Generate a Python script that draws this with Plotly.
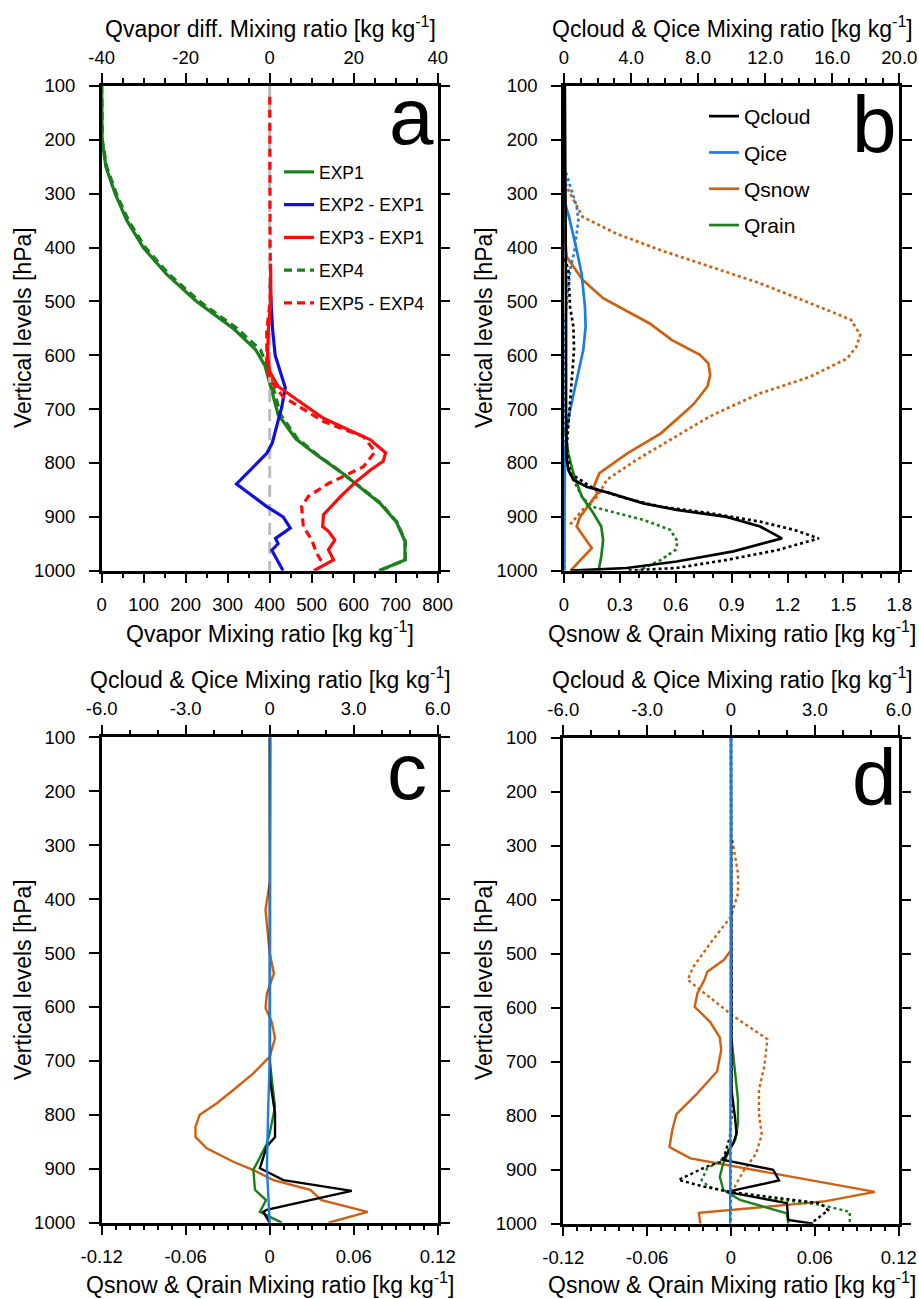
import plotly.graph_objects as go

# ---------------- DATA ----------------
# Panel a : Qvapor (bottom axis) and differences (top axis)
P_EXP1 = [100, 150, 200, 250, 300, 350, 400, 450, 500, 550, 590, 620, 665, 710, 755, 785, 820, 845, 875, 910, 945, 980, 1000]
EXP1 = [0, 0.5, 1, 10, 32, 60, 99, 155, 226, 313, 367, 389, 405, 420, 462, 512, 575, 615, 663, 702, 722, 722, 660]
EXP4 = [0, 0.5, 1.5, 12, 35, 64, 104, 161, 233, 322, 378, 394, 410, 426, 466, 514, 575, 617, 665, 703, 723, 723, 662]

P_EXP2D = [470, 500, 553, 600, 660, 695, 763, 782, 839, 881, 900, 921, 940, 950, 962, 1000]
EXP2_EXP1 = [0.1, 0.25, 0.7, 1.3, 3.7, 2.9, 0.6, -0.7, -7.9, -0.7, 3.2, 4.9, 1.4, 2.0, 0.5, 3.2]

P_EXP3D = [430, 500, 550, 600, 630, 658, 717, 757, 781, 797, 813, 835, 862, 896, 918, 927, 943, 961, 980, 1000]
EXP3_EXP1 = [0.2, 0.3, -0.3, -0.5, 0.0, 2.0, 12.8, 24.0, 27.6, 27.0, 24.0, 20.5, 16.9, 12.8, 12.6, 14.0, 15.5, 14.0, 15.2, 10.5]

P_EXP5D = [120, 200, 300, 400, 450, 500, 553, 600, 620, 646, 677, 723, 751, 779, 807, 819, 838, 862, 881, 918, 943, 968, 983]
EXP5_EXP4 = [0, 0, 0, 0.1, 0.2, 0.1, -0.7, -0.8, -0.7, 0.1, 3.2, 12.8, 22.3, 25.1, 22.3, 19.1, 14.0, 9.2, 7.6, 8.0, 10.0, 11.2, 12.4]

ZERO_P = [100, 1000]
ZERO_X = [0, 0]

# Panel b : EXP1 (solid) and EXP4 (dotted) hydrometeors
P_QC1 = [100, 300, 500, 700, 790, 813, 831, 844, 856, 875, 887, 900, 918, 940, 964, 983, 995, 1000]
QC1 = [0.05, 0.1, 0.12, 0.12, 0.15, 0.26, 0.56, 1.35, 2.74, 4.73, 6.72, 9.7, 11.7, 13.0, 10.1, 6.72, 3.74, 0.4]
P_QC4 = [420, 442, 510, 547, 590, 646, 714, 770, 819, 831, 847, 866, 881, 893, 909, 924, 940, 962, 980, 995, 1000]
QC4 = [0.05, 0.26, 0.36, 0.56, 0.6, 0.46, 0.26, 0.16, 0.36, 0.95, 1.75, 3.74, 5.73, 8.7, 11.7, 13.7, 15.2, 12.7, 9.7, 6.7, 3.7]

P_QI1 = [100, 250, 300, 324, 343, 405, 448, 510, 547, 590, 633, 671, 708, 739, 788, 881, 1000]
QI1 = [0, 0, 0.03, 0.12, 0.3, 0.76, 1.05, 1.25, 1.29, 1.15, 0.85, 0.56, 0.32, 0.16, 0.06, 0.03, 0.02]
P_QI4 = [250, 287, 324, 349, 374, 410, 435, 485, 540, 600, 800, 1000]
QI4 = [0, 0.36, 0.76, 0.86, 0.76, 0.6, 0.4, 0.2, 0.06, 0.03, 0.02, 0.02]

P_QS1 = [361, 398, 417, 435, 460, 494, 519, 541, 572, 599, 615, 637, 658, 689, 702, 745, 782, 819, 844, 856, 900, 918, 958, 1000]
QS1 = [0, 0.01, 0.014, 0.05, 0.10, 0.21, 0.34, 0.46, 0.58, 0.73, 0.775, 0.785, 0.77, 0.70, 0.66, 0.52, 0.34, 0.19, 0.16, 0.18, 0.086, 0.068, 0.149, 0.035]
P_QS4 = [270, 287, 343, 374, 405, 435, 466, 503, 534, 562, 584, 606, 640, 671, 714, 757, 794, 831, 862, 887, 918]
QS4 = [0, 0.014, 0.10, 0.28, 0.52, 0.78, 1.05, 1.32, 1.54, 1.59, 1.57, 1.52, 1.32, 1.05, 0.78, 0.57, 0.39, 0.23, 0.18, 0.10, 0.023]

P_QR1 = [733, 782, 819, 862, 893, 918, 943, 974, 1000]
QR1 = [0.005, 0.023, 0.05, 0.095, 0.157, 0.20, 0.21, 0.20, 0.185]
P_QR4 = [819, 865, 881, 906, 924, 946, 961, 980, 1000]
QR4 = [0.032, 0.10, 0.15, 0.43, 0.57, 0.61, 0.60, 0.52, 0.40]

# Panel c : differences (solid)
P_C_QC = [100, 500, 735, 797, 841, 859, 899, 921, 941, 976, 980, 1000]
C_QC = [0, 0, 0.01, 0.19, 0.19, -0.11, -0.35, 0.49, 2.93, -0.11, -0.23, 0.0]
P_C_QI = [100, 500, 700, 800, 900, 1000]
C_QI = [0.03, 0.02, 0.0, -0.06, -0.1, 0.0]
P_C_QS = [370, 420, 500, 538, 575, 602, 627, 658, 692, 723, 754, 779, 800, 822, 841, 862, 887, 902, 921, 939, 958, 980, 1000]
C_QS = [0, -0.003, 0.0, 0.003, -0.002, -0.003, 0.0014, 0.0038, 0.0, -0.0117, -0.026, -0.038, -0.050, -0.053, -0.053, -0.045, -0.026, -0.012, 0.0026, 0.029, 0.037, 0.070, 0.042]
P_C_QR = [700, 754, 785, 834, 853, 884, 902, 939, 958, 980, 989, 1000]
C_QR = [0, 0.0026, 0.0038, 0.0, -0.002, -0.008, -0.0117, -0.0105, -0.0026, -0.007, 0.0, 0.0086]

# Panel d : differences (solid and dotted)
P_D_QC1 = [100, 500, 752, 802, 833, 851, 870, 882, 900, 920, 941, 962, 993, 1000]
D_QC1 = [0, 0, 0.02, 0.14, 0.2, 0.08, -0.15, -0.27, 1.51, 1.72, -0.15, 2.0, 2.05, 2.94]
P_D_QC4 = [100, 500, 800, 839, 870, 885, 894, 919, 931, 941, 962, 975, 1000]
D_QC4 = [0, 0, 0.02, -0.04, -0.21, -0.33, -0.87, -1.88, -0.99, -0.04, 3.18, 3.48, 2.85]
P_D_QI1 = [100, 500, 800, 1000]
D_QI1 = [0, 0, -0.02, -0.03]
P_D_QI4 = [100, 500, 800, 1000]
D_QI4 = [0, 0, 0.0, -0.01]
P_D_QS1 = [493, 511, 533, 548, 573, 598, 626, 655, 678, 718, 761, 797, 826, 858, 879, 941, 959, 980, 1000]
D_QS1 = [0.0, -0.005, -0.017, -0.019, -0.024, -0.026, -0.015, -0.008, -0.007, -0.010, -0.025, -0.039, -0.042, -0.044, -0.029, 0.103, 0.066, -0.023, -0.022]
P_D_QS4 = [289, 351, 388, 431, 474, 524, 548, 579, 616, 658, 706, 752, 796, 835, 870, 902, 937]
D_QS4 = [0.001, 0.005, 0.005, 0.0, -0.013, -0.027, -0.031, -0.016, 0.002, 0.026, 0.024, 0.020, 0.020, 0.022, 0.018, 0.009, 0.0015]
P_D_QR1 = [660, 721, 771, 814, 845, 863, 888, 913, 937, 956, 981, 1000]
D_QR1 = [0.0005, 0.003, 0.005, 0.005, 0.003, -0.001, -0.0055, -0.008, -0.0055, 0.0064, 0.040, 0.041]
P_D_QR4 = [850, 870, 885, 897, 919, 931, 941, 953, 965, 978, 1000]
D_QR4 = [0.0, -0.003, -0.008, -0.017, -0.021, -0.016, -0.003, 0.028, 0.064, 0.085, 0.085]

# Ticks
Y_TICKS = [100, 200, 300, 400, 500, 600, 700, 800, 900, 1000]
A_BOT_TICKS = [0, 100, 200, 300, 400, 500, 600, 700, 800]
A_TOP_TICKS = [-40, -20, 0, 20, 40]
B_BOT_TICKS = [0, 0.3, 0.6, 0.9, 1.2, 1.5, 1.8]
B_BOT_TEXT = ["0", "0.3", "0.6", "0.9", "1.2", "1.5", "1.8"]
B_TOP_TICKS = [0, 4, 8, 12, 16, 20]
B_TOP_TEXT = ["0", "4.0", "8.0", "12.0", "16.0", "20.0"]
CD_BOT_TICKS = [-0.12, -0.06, 0, 0.06, 0.12]
CD_BOT_TEXT = ["-0.12", "-0.06", "0", "0.06", "0.12"]
CD_TOP_TICKS = [-6, -3, 0, 3, 6]
CD_TOP_TEXT = ["-6.0", "-3.0", "0", "3.0", "6.0"]

# ---------------- STYLE ----------------
FONT = "Liberation Sans, Arial, Helvetica, sans-serif"
W, H = 919, 1299
GREEN = "#1B7F1B"
BLUE = "#1010E0"
RED = "#FF0A0A"
GRAY = "#BDBDBD"
BLACK = "#000000"
ICE = "#1C7EE0"
SNOW = "#D0600F"
RAIN = "#1B7F1B"

fig = go.Figure()


def add(x, y, xa, ya, color, width, dash="solid", name=None, legend=None, rank=None):
    fig.add_trace(go.Scatter(
        x=x, y=y, xaxis=xa, yaxis=ya, mode="lines",
        line=dict(color=color, width=width, dash=dash),
        name=name if name else "", showlegend=name is not None,
        legend=legend if legend else "legend",
        legendgroup=name if name else None,
        legendrank=rank if rank else 1000,
        hoverinfo="skip"))


WA, WB, WC = 3.2, 2.7, 2.4

# Panel a
add(EXP1, P_EXP1, "x", "y", GREEN, WA, name="EXP1", legend="legend", rank=1)
add(EXP4, P_EXP1, "x", "y", GREEN, WA, dash="8px,5px", name="EXP4", legend="legend", rank=4)
add(ZERO_X, ZERO_P, "x5", "y", GRAY, 3, dash="12px,7px")
add(EXP2_EXP1, P_EXP2D, "x5", "y", BLUE, WA, name="EXP2 - EXP1", legend="legend", rank=2)
add(EXP3_EXP1, P_EXP3D, "x5", "y", RED, WA, name="EXP3 - EXP1", legend="legend", rank=3)
add(EXP5_EXP4, P_EXP5D, "x5", "y", RED, WA, dash="8px,5px", name="EXP5 - EXP4", legend="legend", rank=5)

# Panel b
add(QS1, P_QS1, "x2", "y2", SNOW, WB, name="Qsnow", legend="legend2", rank=3)
add(QS4, P_QS4, "x2", "y2", SNOW, WB, dash="dot")
add(QR1, P_QR1, "x2", "y2", RAIN, WB, name="Qrain", legend="legend2", rank=4)
add(QR4, P_QR4, "x2", "y2", RAIN, WB, dash="dot")
add(QI1, P_QI1, "x6", "y2", ICE, WB, name="Qice", legend="legend2", rank=2)
add(QI4, P_QI4, "x6", "y2", ICE, WB, dash="dot")
add(QC1, P_QC1, "x6", "y2", BLACK, WB, name="Qcloud", legend="legend2", rank=1)
add(QC4, P_QC4, "x6", "y2", BLACK, WB, dash="dot")

# Panel c
add(C_QS, P_C_QS, "x3", "y3", SNOW, WC)
add(C_QR, P_C_QR, "x3", "y3", RAIN, WC)
add(C_QC, P_C_QC, "x7", "y3", BLACK, WC)
add(C_QI, P_C_QI, "x7", "y3", ICE, WC)

# Panel d
add(D_QS1, P_D_QS1, "x4", "y4", SNOW, WC)
add(D_QS4, P_D_QS4, "x4", "y4", SNOW, WC, dash="dot")
add(D_QR1, P_D_QR1, "x4", "y4", RAIN, WC)
add(D_QR4, P_D_QR4, "x4", "y4", RAIN, WC, dash="dot")
add(D_QC1, P_D_QC1, "x8", "y4", BLACK, WC)
add(D_QC4, P_D_QC4, "x8", "y4", BLACK, WC, dash="dot")
add(D_QI1, P_D_QI1, "x8", "y4", ICE, WC)
add(D_QI4, P_D_QI4, "x8", "y4", ICE, WC, dash="dot")


def px(v):
    return v / W


def py(v):
    return 1 - v / H


DOM = {
    "a": ([px(101.7), px(437.7)], [py(570.7), py(86)]),
    "b": ([px(564), px(899.3)], [py(570.7), py(86)]),
    "c": ([px(101.7), px(437.7)], [py(1222.7), py(737.3)]),
    "d": ([px(563.3), px(898.7)], [py(1223.7), py(738)]),
}

TICKFONT = dict(family=FONT, size=18.5, color="black")
LINE_W = 2.5


def xax(domain, anchor, rng, tickvals, ticktext, minor_dtick, minor_tick0, side="bottom", overlaying=None):
    d = dict(
        range=rng, side=side, anchor=anchor, automargin=False,
        tickmode="array", tickvals=tickvals, ticktext=ticktext,
        ticks="outside", ticklen=10, tickwidth=2, tickcolor="black",
        showline=True, linecolor="black", linewidth=LINE_W,
        showgrid=False, zeroline=False, tickfont=TICKFONT,
        ticklabelstandoff=5 if side == "bottom" else 2,
        minor=dict(tickmode="linear", tick0=minor_tick0, dtick=minor_dtick,
                   ticks="outside", ticklen=5, tickwidth=1.6, tickcolor="black", showgrid=False),
        fixedrange=True,
    )
    if overlaying:
        d["overlaying"] = overlaying
    else:
        d["domain"] = domain
    return d


def yax(domain, anchor):
    return dict(
        domain=domain, anchor=anchor, range=[1000, 100], automargin=False,
        tickmode="array", tickvals=Y_TICKS, ticktext=[str(v) for v in Y_TICKS],
        ticks="outside", ticklen=10, tickwidth=2, tickcolor="black",
        showline=True, linecolor="black", linewidth=LINE_W, mirror="ticks",
        showgrid=False, zeroline=False, tickfont=TICKFONT, ticklabelstandoff=10,
        fixedrange=True,
    )


layout = dict(
    width=W, height=H, margin=dict(l=0, r=0, t=0, b=0, pad=0, autoexpand=False),
    paper_bgcolor="white", plot_bgcolor="white",
    font=dict(family=FONT, color="black"),
    xaxis=xax(DOM["a"][0], "y", [0, 800], A_BOT_TICKS, [str(v) for v in A_BOT_TICKS], 50, 0),
    xaxis5=xax(None, "y", [-40, 40], A_TOP_TICKS, [str(v) for v in A_TOP_TICKS], 5, -40, side="top", overlaying="x"),
    yaxis=yax(DOM["a"][1], "x"),
    xaxis2=xax(DOM["b"][0], "y2", [0, 1.8], B_BOT_TICKS, B_BOT_TEXT, 0.1, 0),
    xaxis6=xax(None, "y2", [0, 20], B_TOP_TICKS, B_TOP_TEXT, 1, 0, side="top", overlaying="x2"),
    yaxis2=yax(DOM["b"][1], "x2"),
    xaxis3=xax(DOM["c"][0], "y3", [-0.12, 0.12], CD_BOT_TICKS, CD_BOT_TEXT, 0.01, -0.12),
    xaxis7=xax(None, "y3", [-6, 6], CD_TOP_TICKS, CD_TOP_TEXT, 1, -6, side="top", overlaying="x3"),
    yaxis3=yax(DOM["c"][1], "x3"),
    xaxis4=xax(DOM["d"][0], "y4", [-0.12, 0.12], CD_BOT_TICKS, CD_BOT_TEXT, 0.01, -0.12),
    xaxis8=xax(None, "y4", [-6, 6], CD_TOP_TICKS, CD_TOP_TEXT, 1, -6, side="top", overlaying="x4"),
    yaxis4=yax(DOM["d"][1], "x4"),
    legend=dict(x=px(279), y=py(154), xanchor="left", yanchor="top",
                bgcolor="rgba(0,0,0,0)", borderwidth=0, tracegroupgap=7,
                font=dict(family=FONT, size=17.5, color="black"), traceorder="grouped"),
    legend2=dict(x=px(704), y=py(96), xanchor="left", yanchor="top",
                 bgcolor="rgba(0,0,0,0)", borderwidth=0, tracegroupgap=6,
                 font=dict(family=FONT, size=21, color="black"), traceorder="grouped"),
    showlegend=True,
)
fig.update_layout(**layout)

UNIT = " Mixing ratio [kg kg<sup>-1</sup>]"
TITLE_SIZE = 23
ann = []


def text(x, y, s, size, angle=0):
    ann.append(dict(x=px(x), y=py(y), xref="paper", yref="paper", text=s, showarrow=False,
                    xanchor="center", yanchor="middle", textangle=angle,
                    font=dict(family=FONT, size=size, color="black")))


# Panel a
text(270, 27, "Qvapor diff." + UNIT, TITLE_SIZE)
text(270, 632, "Qvapor" + UNIT, TITLE_SIZE)
text(23, 328, "Vertical levels [hPa]", TITLE_SIZE, -90)
# Panel b
text(732, 27, "Qcloud &amp; Qice" + UNIT, TITLE_SIZE)
text(732, 632, "Qsnow &amp; Qrain" + UNIT, TITLE_SIZE)
text(484, 328, "Vertical levels [hPa]", TITLE_SIZE, -90)
# Panel c
text(270, 678, "Qcloud &amp; Qice" + UNIT, TITLE_SIZE)
text(270, 1283, "Qsnow &amp; Qrain" + UNIT, TITLE_SIZE)
text(23, 980, "Vertical levels [hPa]", TITLE_SIZE, -90)
# Panel d
text(732, 678, "Qcloud &amp; Qice" + UNIT, TITLE_SIZE)
text(732, 1283, "Qsnow &amp; Qrain" + UNIT, TITLE_SIZE)
text(484, 980, "Vertical levels [hPa]", TITLE_SIZE, -90)
# Panel letters
text(411, 116, "a", 80)
text(874, 124, "b", 80)
text(407, 771, "c", 80)
text(874, 778, "d", 80)

fig.update_layout(annotations=ann)
fig.write_html("out.html")
